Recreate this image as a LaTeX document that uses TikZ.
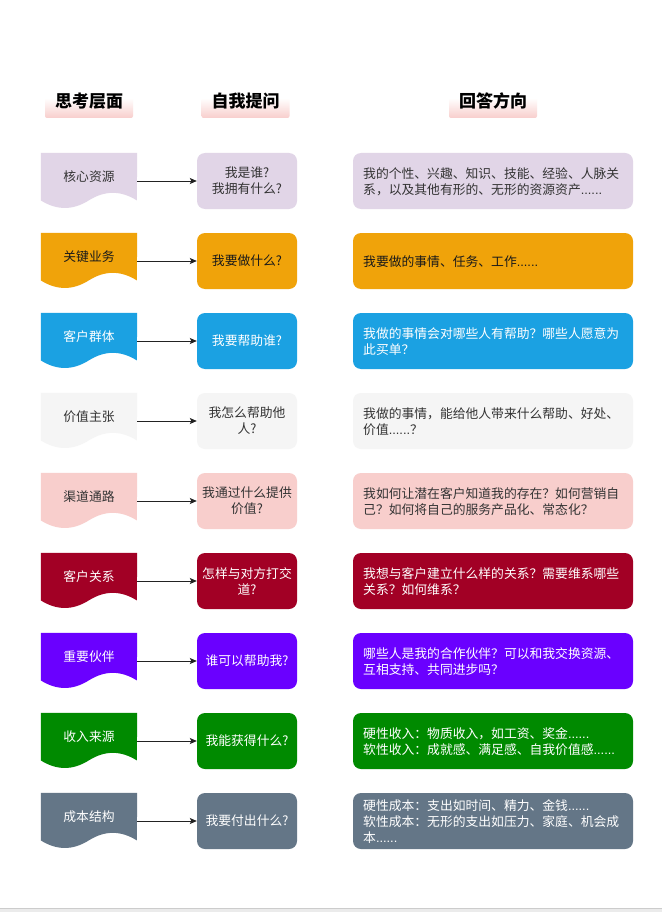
\documentclass[tikz,border=0pt]{standalone}
\usepackage{fontspec}
\usetikzlibrary{arrows.meta,calc}
\setmainfont{Noto Sans CJK SC}
\newfontfamily\latinf{Liberation Sans}
\newcommand\mydots{{\latinf......}}
\definecolor{c1}{HTML}{E1D5E7}\definecolor{t1}{HTML}{333333}
\definecolor{c2}{HTML}{F0A30A}\definecolor{t2}{HTML}{1A1A1A}
\definecolor{c3}{HTML}{1BA1E2}\definecolor{t3}{HTML}{FFFFFF}
\definecolor{c4}{HTML}{F5F5F5}\definecolor{t4}{HTML}{333333}
\definecolor{c5}{HTML}{F8CECC}\definecolor{t5}{HTML}{333333}
\definecolor{c6}{HTML}{A20025}\definecolor{t6}{HTML}{FFFFFF}
\definecolor{c7}{HTML}{6A00FF}\definecolor{t7}{HTML}{FFFFFF}
\definecolor{c8}{HTML}{008A00}\definecolor{t8}{HTML}{FFFFFF}
\definecolor{c9}{HTML}{647687}\definecolor{t9}{HTML}{FFFFFF}
\definecolor{hpink}{HTML}{F8CECC}
\definecolor{arrowc}{HTML}{222222}
% #1 index, #2 row top y, #3 label, #4 question, #5 answer
\newcommand\bmcrow[5]{%
  \node[docanchor] (d#1) at (89,#2+28) {};
  \fill[c#1] (d#1.north west) -- (d#1.north east)
    -- ([shift={(96,47.6)}]d#1.north west)
    .. controls ([shift={(80,37.52)}]d#1.north west) and ([shift={(64,37.52)}]d#1.north west)
    .. ([shift={(48,47.6)}]d#1.north west)
    .. controls ([shift={(32,57.68)}]d#1.north west) and ([shift={(16,57.68)}]d#1.north west)
    .. ([shift={(0,47.6)}]d#1.north west) -- cycle;
  \node[body, text=t#1] (l#1) at (89,#2+24) {#3};
  \node[qbox, fill=c#1, text=t#1] (q#1) at (247,#2+28) {#4};
  \node[abox, fill=c#1] (a#1) at (493,#2+28) {};
  \node[body, text=t#1, align=left, anchor=west] (at#1) at (363,#2+28.5) {#5};
  \draw[arr] (d#1.east) -- (q#1.west);
}
\begin{document}
\begin{tikzpicture}[x=1pt,y=-1pt,
  body/.style={font=\fontsize{12.8}{16}\selectfont, inner sep=0pt},
  hbar/.style={minimum width=88pt, minimum height=20pt, inner sep=0pt, rounded corners=2pt, top color=white, bottom color=hpink, draw=none},
  htext/.style={font=\fontsize{17}{20}\selectfont\bfseries, text=black, inner sep=0pt},
  docanchor/.style={minimum width=96pt, minimum height=56pt, inner sep=0pt},
  qbox/.style={body, minimum width=100pt, minimum height=56pt, rounded corners=8pt, align=center},
  abox/.style={minimum width=280pt, minimum height=56pt, inner sep=0pt, rounded corners=8pt},
  arr/.style={draw=arrowc, line width=0.8pt, -{Stealth[length=7pt,width=6pt,inset=1.5pt]}}
]
\useasboundingbox (0,0) rectangle (662,912);
\fill[white] (0,0) rectangle (662,912);
\fill[black!8] (0,908) rectangle (662,912);
\draw[black!20, line width=0.8pt] (0,908) -- (662,908);

% headers
\node[hbar] (hb1) at (89,108) {};
\node[hbar] (hb2) at (245.5,108) {};
\node[hbar] (hb3) at (493,108) {};
\node[htext] (ht1) at (89,101) {思考层面};
\node[htext] (ht2) at (245.5,101) {自我提问};
\node[htext] (ht3) at (493,101) {回答方向};

\bmcrow{1}{153}{核心资源}{我是谁?\\我拥有什么?}{我的个性、兴趣、知识、技能、经验、人脉关\\系，以及其他有形的、无形的资源资产\mydots}
\bmcrow{2}{233}{关键业务}{我要做什么?}{我要做的事情、任务、工作\mydots}
\bmcrow{3}{313}{客户群体}{我要帮助谁?}{我做的事情会对哪些人有帮助？哪些人愿意为\\此买单？}
\bmcrow{4}{393}{价值主张}{我怎么帮助他\\人?}{我做的事情，能给他人带来什么帮助、好处、\\价值\mydots？}
\bmcrow{5}{473}{渠道通路}{我通过什么提供\\价值?}{我如何让潜在客户知道我的存在？如何营销自\\己？如何将自己的服务产品化、常态化？}
\bmcrow{6}{553}{客户关系}{怎样与对方打交\\道?}{我想与客户建立什么样的关系？需要维系哪些\\关系？如何维系？}
\bmcrow{7}{633}{重要伙伴}{谁可以帮助我?}{哪些人是我的合作伙伴？可以和我交换资源、\\互相支持、共同进步吗？}
\bmcrow{8}{713}{收入来源}{我能获得什么?}{硬性收入：物质收入，如工资、奖金\mydots\\软性收入：成就感、满足感、自我价值感\mydots}
\bmcrow{9}{793}{成本结构}{我要付出什么?}{硬性成本：支出如时间、精力、金钱\mydots\\软性成本：无形的支出如压力、家庭、机会成\\本\mydots}
\end{tikzpicture}
\end{document}
